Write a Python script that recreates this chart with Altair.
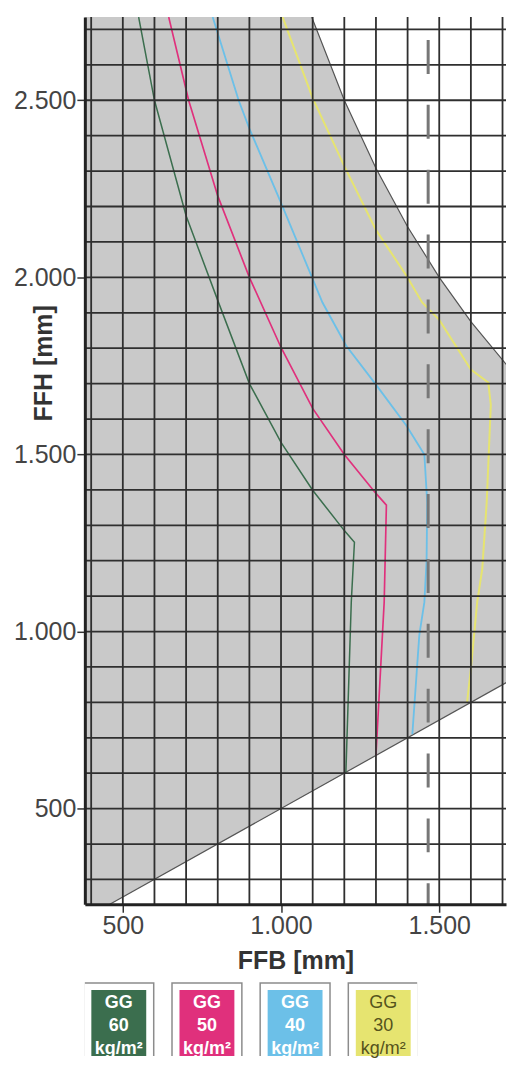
import altair as alt
import pandas as pd

# ---------------- data ----------------
ffb_domain = [380, 1711]
ffh_domain = [230, 2735]
ffb_labels = [500, 1000, 1500]
ffh_labels = [500, 1000, 1500, 2000, 2500]
ffb_grid = [400, 500, 600, 700, 800, 900, 1000, 1100, 1200, 1300, 1400, 1500, 1600, 1700]
ffh_grid = [300, 400, 500, 600, 700, 800, 900, 1000, 1100, 1200, 1300, 1400, 1500,
            1600, 1700, 1800, 1900, 2000, 2100, 2200, 2300, 2400, 2500, 2600, 2700]
y_title = ["FFH [mm]"]

# grey admissible region
region_ffb = [380, 459, 1097, 1200, 1300, 1400, 1500, 1600, 1736]
region_top = [2735, 2735, 2735, 2500, 2308, 2143, 2000, 1875, 1728]
region_bottom = [230, 230, 548, 600, 650, 700, 750, 800, 868]

# region edges
upper_ffb = [1097, 1200, 1300, 1400, 1500, 1600, 1736]
upper_ffh = [2735, 2500, 2308, 2143, 2000, 1875, 1728]
lower_ffb = [459, 1736]
lower_ffh = [230, 868]

# dashed limit
limit_ffb = [1465]

series = ["GG 60", "GG 50", "GG 40", "GG 30"]
gg60_ffb = [550, 600, 700, 800, 900, 1000, 1100, 1200, 1232, 1222, 1205]
gg60_ffh = [2735, 2500, 2174, 1935, 1700, 1534, 1399, 1285, 1252, 1083, 602]
gg50_ffb = [645, 708, 800, 900, 1000, 1100, 1200, 1300, 1333, 1326, 1300]
gg50_ffh = [2735, 2500, 2230, 2000, 1802, 1630, 1500, 1390, 1357, 1083, 650]
gg40_ffb = [784, 866, 900, 1000, 1131, 1206, 1300, 1396, 1453, 1462, 1460, 1453, 1437, 1415]
gg40_ffh = [2735, 2500, 2420, 2210, 1929, 1807, 1697, 1582, 1500, 1365, 1200, 1083, 990, 710]
gg30_ffb = [1005, 1100, 1200, 1300, 1396, 1446, 1500, 1600, 1655, 1663, 1650, 1636, 1620, 1600, 1588]
gg30_ffh = [2735, 2506, 2314, 2134, 2005, 1929, 1880, 1740, 1703, 1640, 1365, 1177, 1083, 895, 800]

line_colors = ["#3b6e4e", "#e0307c", "#6cc0e8", "#e6e470"]
line_widths = [1.5, 2, 2.6, 2.6]

legend_name = ["GG", "GG", "GG", "GG"]
legend_value = ["60", "50", "40", "30"]
legend_unit = ["kg/m²", "kg/m²", "kg/m²", "kg/m²"]
box_colors = ["#0e6a38", "#e5007d", "#19a6e0", "#f0e400"]

# ---------------- tables ----------------
area_df = pd.DataFrame({"ffb": region_ffb, "ffh": region_top, "ffh2": region_bottom})
edge_df = pd.concat([
    pd.DataFrame({"ffb": upper_ffb, "ffh": upper_ffh, "edge": "upper", "idx": range(len(upper_ffb))}),
    pd.DataFrame({"ffb": lower_ffb, "ffh": lower_ffh, "edge": "lower", "idx": range(len(lower_ffb))}),
])
curves = []
for name, xs_, ys_ in zip(series, [gg60_ffb, gg50_ffb, gg40_ffb, gg30_ffb],
                          [gg60_ffh, gg50_ffh, gg40_ffh, gg30_ffh]):
    curves.append(pd.DataFrame({"series": name, "ffb": xs_, "ffh": ys_, "idx": range(len(xs_))}))
curve_df = pd.concat(curves)
limit_df = pd.DataFrame({"ffb": limit_ffb})
vgrid_df = pd.DataFrame({"ffb": ffb_grid})
hgrid_df = pd.DataFrame({"ffh": ffh_grid})
ytitle_df = pd.DataFrame({"t": y_title})
legend_df = pd.DataFrame({"label": series, "name": legend_name, "value": legend_value, "unit": legend_unit})

# ---------------- scales / axes ----------------
FONT = "Liberation Sans"
xs = alt.Scale(domain=ffb_domain, nice=False, zero=False)
ys = alt.Scale(domain=ffh_domain, nice=False, zero=False)
label_expr = "replace(format(datum.value, ','), ',', '.')"

common_axis = dict(
    labelExpr=label_expr, grid=False,
    domainColor="#222222", domainWidth=3, tickColor="#333333", tickWidth=1.5,
    tickSize=8, labelFont=FONT, labelFontSize=25, labelColor="#444444",
    titleFont=FONT, titleFontSize=25, titleFontWeight="bold", titleColor="#333333",
    zindex=1, labelOverlap=False, labelFlush=False,
)
x_axis_kw = dict(common_axis)
x_axis_kw.update(values=ffb_labels, title="FFB [mm]", labelPadding=1, titlePadding=10)
y_axis_kw = dict(common_axis)
y_axis_kw.update(values=ffh_labels, title=None, labelPadding=1)
x_axis = alt.Axis(**x_axis_kw)
y_axis = alt.Axis(**y_axis_kw)

X = alt.X("ffb:Q", scale=xs, axis=x_axis)
Y = alt.Y("ffh:Q", scale=ys, axis=y_axis)

area = alt.Chart(area_df).mark_area(color="#c9c9c9", clip=True).encode(x=X, y=Y, y2="ffh2:Q")
edges = alt.Chart(edge_df).mark_line(color="#555555", strokeWidth=1.2, clip=True).encode(
    x=X, y=Y, detail="edge:N", order="idx:Q",
)
lines = alt.Chart(curve_df).mark_line(clip=True).encode(
    x=X, y=Y,
    color=alt.Color("series:N", scale=alt.Scale(domain=series, range=line_colors), legend=None),
    strokeWidth=alt.StrokeWidth("series:N", scale=alt.Scale(domain=series, range=line_widths), legend=None),
    order="idx:Q",
)
limit = alt.Chart(limit_df).mark_rule(color="#777777", strokeWidth=3, strokeDash=[34, 31],
                                      strokeDashOffset=42).encode(x=X)
vgrid = alt.Chart(vgrid_df).mark_rule(color="#2f2f2f", strokeWidth=1.8).encode(x=X)
hgrid = alt.Chart(hgrid_df).mark_rule(color="#2f2f2f", strokeWidth=1.8).encode(y=Y)
ytitle = alt.Chart(ytitle_df).mark_text(
    font=FONT, fontSize=25, fontWeight="bold", color="#333333", angle=270,
    align="center", baseline="alphabetic",
).encode(x=alt.value(-33), y=alt.value(347), text="t:N")

main = alt.layer(area, edges, lines, vgrid, hgrid, limit, ytitle).properties(width=422, height=889)

# ---------------- legend ----------------
lx = alt.X("label:N", scale=alt.Scale(type="point", domain=series, padding=0.385), axis=None)
outer = alt.Chart(legend_df).mark_rect(width=70, fill="white", stroke="#8c8c8c", strokeWidth=1.5,
                                       clip=True).encode(x=lx, y=alt.value(6), y2=alt.value(120))
inner = alt.Chart(legend_df).mark_rect(width=55, clip=True).encode(
    x=lx, y=alt.value(13), y2=alt.value(92),
    color=alt.Color("label:N", scale=alt.Scale(domain=series, range=box_colors), legend=None),
)
txt_base = alt.Chart(legend_df).transform_calculate(
    txt="datum.name + '\\n' + datum.value + '\\n' + datum.unit"
)
txt_white = txt_base.transform_filter("datum.label != 'GG 30'").mark_text(
    font=FONT, fontSize=18, fontWeight="bold", color="white", lineBreak="\n", lineHeight=23,
    baseline="middle", align="center",
).encode(x=lx, y=alt.value(26), text="txt:N")
txt_dark = txt_base.transform_filter("datum.label == 'GG 30'").mark_text(
    font=FONT, fontSize=18, color="#55531c", lineBreak="\n", lineHeight=23,
    baseline="middle", align="center",
).encode(x=lx, y=alt.value(26), text="txt:N")

legend = alt.layer(outer, inner, txt_white, txt_dark).properties(width=333, height=79)

chart = alt.vconcat(main, legend, spacing=4).properties(
    padding={"left": 5, "top": 6, "right": 0, "bottom": 0},
    background="white",
).configure_view(strokeWidth=0)

chart.save("out.html", embed_options={"renderer": "svg", "actions": False})
